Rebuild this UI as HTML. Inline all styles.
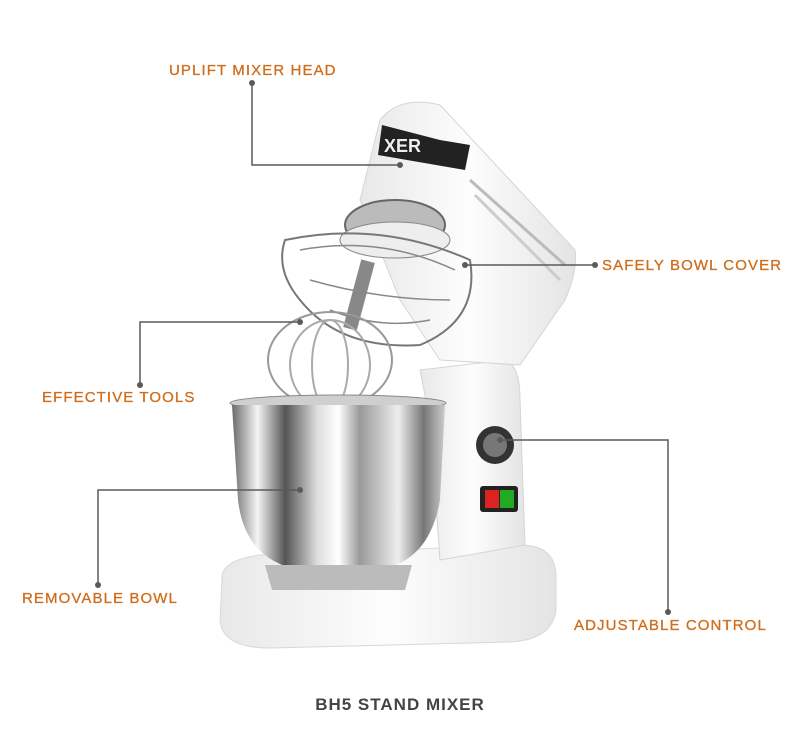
<!DOCTYPE html>
<html><head><meta charset="utf-8"><style>
html,body{margin:0;padding:0;background:#fff}
.w{position:relative;width:800px;height:738px;overflow:hidden;font-family:"Liberation Sans",sans-serif}
.l{position:absolute;color:#cf6d1d;font-size:15px;letter-spacing:1.1px;white-space:nowrap;-webkit-text-stroke:0.3px #cf6d1d}
</style></head><body><div class="w">
<svg width="800" height="738" style="position:absolute;left:0;top:0">
<defs>
<linearGradient id="bowl" x1="0" x2="1"><stop offset="0" stop-color="#6a6a6a"/><stop offset=".12" stop-color="#f5f5f5"/><stop offset=".25" stop-color="#555"/><stop offset=".4" stop-color="#ddd"/><stop offset=".5" stop-color="#fff"/><stop offset=".6" stop-color="#999"/><stop offset=".78" stop-color="#eee"/><stop offset=".9" stop-color="#777"/><stop offset="1" stop-color="#ccc"/></linearGradient>
<linearGradient id="wh" x1="0" x2="1"><stop offset="0" stop-color="#e8e8e8"/><stop offset=".5" stop-color="#fdfdfd"/><stop offset="1" stop-color="#e4e4e4"/></linearGradient>
</defs>
<path d="M222 580 Q220 560 260 555 L520 545 Q555 545 556 575 L556 610 Q552 640 510 642 L270 648 Q222 648 220 620 Z" fill="url(#wh)" stroke="#d8d8d8"/>
<path d="M420 370 L505 360 Q520 365 520 400 L525 545 L440 560 L430 420 Z" fill="url(#wh)" stroke="#d5d5d5"/>
<path d="M380 120 Q400 95 440 105 L575 250 Q578 270 565 300 L520 365 L440 360 L400 300 L360 200 Z" fill="url(#wh)" stroke="#d5d5d5"/>
<path d="M382 125 L440 140 L470 145 L465 170 L378 155 Z" fill="#222"/>
<text x="384" y="152" font-family="Liberation Sans" font-size="18" font-weight="bold" fill="#eee">XER</text>
<line x1="470" y1="180" x2="565" y2="265" stroke="#bbb" stroke-width="3"/>
<line x1="475" y1="195" x2="560" y2="280" stroke="#ccc" stroke-width="3"/>
<ellipse cx="395" cy="225" rx="50" ry="25" fill="#bbb" stroke="#666" stroke-width="2"/>
<ellipse cx="395" cy="240" rx="55" ry="18" fill="#eee" stroke="#888"/>
<path d="M285 240 Q380 220 470 260 Q480 320 420 345 Q340 350 300 300 Q275 270 285 240 Z" fill="none" stroke="#777" stroke-width="2"/>
<path d="M300 250 Q380 235 455 270 M310 280 Q380 300 450 300 M330 310 Q380 330 430 320" fill="none" stroke="#888" stroke-width="1.5"/>
<rect x="352" y="260" width="14" height="70" fill="#888" transform="rotate(15 359 295)"/>
<ellipse cx="330" cy="360" rx="62" ry="48" fill="none" stroke="#999" stroke-width="2"/>
<ellipse cx="330" cy="365" rx="40" ry="45" fill="none" stroke="#aaa" stroke-width="2"/>
<ellipse cx="330" cy="365" rx="18" ry="45" fill="none" stroke="#aaa" stroke-width="2"/>
<ellipse cx="338" cy="403" rx="108" ry="8" fill="#cfcfcf" stroke="#888"/>
<path d="M232 405 L445 405 L440 500 Q430 560 380 570 L300 570 Q245 560 238 500 Z" fill="url(#bowl)"/>
<path d="M265 565 L412 565 L405 590 L272 590 Z" fill="#bbb"/>
<circle cx="495" cy="445" r="19" fill="#333"/><circle cx="495" cy="445" r="12" fill="#777"/>
<rect x="480" y="486" width="38" height="26" rx="3" fill="#222"/>
<rect x="485" y="490" width="14" height="18" fill="#d22"/><rect x="500" y="490" width="14" height="18" fill="#2a2"/>
<g stroke="#5a5a5a" stroke-width="1.5" fill="none">
<polyline points="252,83 252,165 400,165"/>
<polyline points="465,265 595,265"/>
<polyline points="300,322 140,322 140,385"/>
<polyline points="300,490 98,490 98,585"/>
<polyline points="500,440 668,440 668,612"/>
</g>
<g fill="#5a5a5a">
<circle cx="252" cy="83" r="3"/><circle cx="400" cy="165" r="3"/>
<circle cx="465" cy="265" r="3"/><circle cx="595" cy="265" r="3"/>
<circle cx="300" cy="322" r="3"/><circle cx="140" cy="385" r="3"/>
<circle cx="300" cy="490" r="3"/><circle cx="98" cy="585" r="3"/>
<circle cx="500" cy="440" r="3"/><circle cx="668" cy="612" r="3"/>
</g>
</svg>
<div class="l" style="left:169px;top:62px">UPLIFT MIXER HEAD</div>
<div class="l" style="left:602px;top:257px">SAFELY BOWL COVER</div>
<div class="l" style="left:42px;top:389px">EFFECTIVE TOOLS</div>
<div class="l" style="left:22px;top:590px">REMOVABLE BOWL</div>
<div class="l" style="left:574px;top:617px">ADJUSTABLE CONTROL</div>
<div style="position:absolute;left:0;width:800px;top:695px;text-align:center;font-size:17px;font-weight:bold;color:#444;letter-spacing:1px">BH5 STAND MIXER</div>
</div></body></html>
